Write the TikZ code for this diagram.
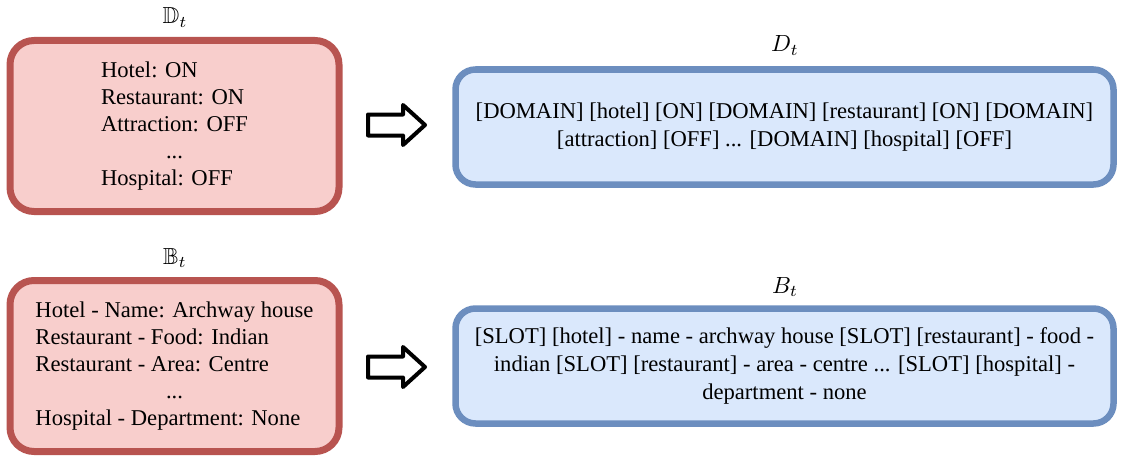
\documentclass[tikz,border=0pt]{standalone}
\usepackage{amssymb}
\usepackage{graphicx}
\usepackage{fontspec}
\setmainfont{Liberation Serif}
\definecolor{redb}{HTML}{B85450}
\definecolor{redf}{HTML}{F8CECC}
\definecolor{blueb}{HTML}{6C8EBF}
\definecolor{bluef}{HTML}{DAE8FC}
\tikzset{
  redbox/.style={draw=redb, fill=redf, line width=7pt, rounded corners=24pt,
    minimum width=329pt, minimum height=171pt, inner sep=0pt},
  bluebox/.style={draw=blueb, fill=bluef, line width=6.5pt, rounded corners=20pt,
    minimum width=658pt, minimum height=115pt, inner sep=0pt, align=center},
  txt/.style={font=\fontsize{22.6}{28}\selectfont},
  lbl/.style={anchor=base, inner sep=0pt},
  blockarrow/.style={draw=black, fill=white, line width=4pt, line join=round}
}
\newcommand{\mylabel}[1]{\resizebox{!}{16pt}{$#1$}}
\begin{document}
\begin{tikzpicture}[x=1pt,y=-1pt]
\useasboundingbox (0,0) rectangle (1121,460);

% red boxes
\node[redbox] (dbox) at (174.5,126) {};
\node[txt] (dtxt) at (dbox.center) {\fontsize{22.6}{27.2}\selectfont\begin{tabular}{@{}l@{}}
Hotel: ON\\ Restaurant: ON\\ Attraction: OFF\\ \multicolumn{1}{@{}c@{}}{...}\\ Hospital: OFF
\end{tabular}};
\node[redbox] (bbox) at (174.5,366) {};
\node[txt] (btxt) at (bbox.center) {\fontsize{22.6}{27.2}\selectfont\begin{tabular}{@{}l@{}}
Hotel - Name: Archway house\\ Restaurant - Food: Indian\\ Restaurant - Area: Centre\\ \multicolumn{1}{@{}c@{}}{...}\\ Hospital - Department: None
\end{tabular}};

% labels
\node[lbl] (dlbl) at (175,24) {\mylabel{\mathbb{D}_t}};
\node[lbl] (blbl) at (175,264) {\mylabel{\mathbb{B}_t}};
\node[lbl] (Dlbl) at (785,52) {\mylabel{D_t}};
\node[lbl] (Blbl) at (785,293) {\mylabel{B_t}};

% blue boxes
\node[bluebox, txt] (Dbox) at (784.5,127) {[DOMAIN] [hotel] [ON] [DOMAIN] [restaurant] [ON] [DOMAIN]\\{}[attraction] [OFF] ... [DOMAIN] [hospital] [OFF]};
\node[bluebox, txt] (Bbox) at (784.5,366) {{}[SLOT] [hotel] - name - archway house [SLOT] [restaurant] - food -\\{}indian [SLOT] [restaurant] - area - centre ... [SLOT] [hospital] -\\{}department - none};

% arrows
\coordinate (a1) at (396,125);
\coordinate (a2) at (396,367);
\draw[blockarrow, shift={(a1)}] (-28,-10.5) -- (7,-10.5) -- (7,-20) -- (29,0) -- (7,20) -- (7,10.5) -- (-28,10.5) -- cycle;
\draw[blockarrow, shift={(a2)}] (-28,-10.5) -- (7,-10.5) -- (7,-20) -- (29,0) -- (7,20) -- (7,10.5) -- (-28,10.5) -- cycle;
\end{tikzpicture}
\end{document}
